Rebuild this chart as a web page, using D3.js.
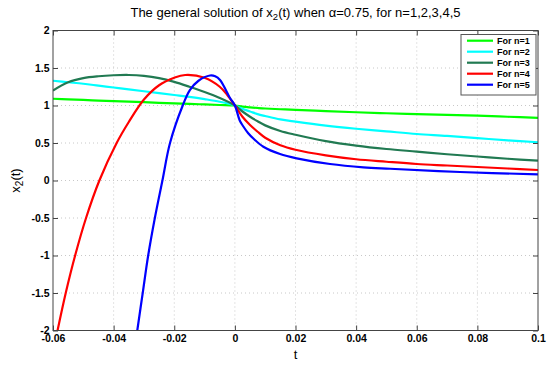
<!DOCTYPE html>
<html>
<head>
<meta charset="utf-8">
<script src="https://d3js.org/d3.v7.min.js"></script>
<style>
  body { margin: 0; background: #fff; }
  text { font-family: "Liberation Sans", Arial, sans-serif; }
</style>
</head>
<body>
<div id="chart"></div>
<script>
// ---- data ----
var xTicks = [-0.06, -0.04, -0.02, 0, 0.02, 0.04, 0.06, 0.08, 0.1];
var yTicks = [-2, -1.5, -1, -0.5, 0, 0.5, 1, 1.5, 2];
var seriesNames = ["For n=1", "For n=2", "For n=3", "For n=4", "For n=5"];
var seriesColors = ["#00ff00", "#00ffff", "#217a52", "#ff0000", "#0000ff"];

var tGrid = [-0.06, -0.055, -0.05, -0.045, -0.04, -0.035, -0.03, -0.025, -0.02, -0.015, -0.01, -0.005, 0,
             0.0025, 0.005, 0.0075, 0.01, 0.015, 0.02, 0.03, 0.04, 0.05, 0.06, 0.07, 0.08, 0.09, 0.1];
var yN1 = [1.09, 1.082, 1.074, 1.066, 1.059, 1.051, 1.044, 1.036, 1.029, 1.021, 1.014, 1.007, 1.0,
           0.985, 0.975, 0.967, 0.96, 0.95, 0.942, 0.925, 0.91, 0.897, 0.886, 0.875, 0.864, 0.85, 0.835];
var yN2 = [1.33, 1.31, 1.29, 1.265, 1.24, 1.215, 1.19, 1.165, 1.14, 1.115, 1.085, 1.05, 1.0,
           0.955, 0.92, 0.885, 0.86, 0.815, 0.785, 0.732, 0.69, 0.655, 0.62, 0.595, 0.565, 0.535, 0.51];
var yN3 = [1.2, 1.31, 1.365, 1.39, 1.403, 1.407, 1.395, 1.365, 1.315, 1.25, 1.18, 1.1, 1.0,
           0.92, 0.85, 0.79, 0.735, 0.66, 0.61, 0.525, 0.465, 0.42, 0.385, 0.35, 0.32, 0.29, 0.265];

var tN4 = [-0.0585, -0.0558, -0.0527, -0.0491, -0.0447, -0.039, -0.035, -0.03, -0.025, -0.02, -0.0164, -0.01, -0.005, -0.0025, 0,
           0.0025, 0.005, 0.0075, 0.01, 0.015, 0.02, 0.03, 0.04, 0.05, 0.06, 0.07, 0.08, 0.09, 0.1];
var yN4 = [-2.0, -1.5, -1.0, -0.5, 0, 0.5, 0.78, 1.08, 1.27, 1.37, 1.407, 1.37, 1.25, 1.14, 1.0,
           0.85, 0.74, 0.65, 0.57, 0.47, 0.41, 0.335, 0.283, 0.25, 0.22, 0.2, 0.18, 0.16, 0.14];

var tN5 = [-0.0322, -0.0304, -0.0286, -0.0264, -0.0239, -0.0214, -0.0172, -0.0148, -0.012, -0.0082, -0.0065, -0.0049, -0.0016, 0,
           0.0016, 0.0028, 0.0044, 0.0061, 0.0094, 0.0149, 0.0204, 0.0314, 0.0424, 0.0512, 0.0743, 0.1];
var yN5 = [-2.0, -1.5, -1.0, -0.5, 0, 0.5, 1.0, 1.207, 1.33, 1.40, 1.39, 1.34, 1.1, 1.0,
           0.8, 0.72, 0.63, 0.56, 0.45, 0.353, 0.296, 0.22, 0.176, 0.157, 0.113, 0.082];

var seriesT = [tGrid, tGrid, tGrid, tN4, tN5];
var seriesY = [yN1, yN2, yN3, yN4, yN5];

// ---- layout ----
var width = 550, height = 366;
var pLeft = 53, pRight = 538, pTop = 30.5, pBottom = 330.5;

var svg = d3.select("#chart").append("svg")
  .attr("width", width)
  .attr("height", height);

var x = d3.scaleLinear().domain([-0.06, 0.1]).range([pLeft, pRight]);
var y = d3.scaleLinear().domain([-2, 2]).range([pBottom, pTop]);

// grid
svg.append("g").selectAll("line").data(xTicks.slice(1, -1)).enter().append("line")
  .attr("x1", function(d) { return x(d); }).attr("x2", function(d) { return x(d); })
  .attr("y1", pTop).attr("y2", pBottom)
  .attr("stroke", "#c8c8c8").attr("stroke-dasharray", "1,3");
svg.append("g").selectAll("line").data(yTicks.slice(1, -1)).enter().append("line")
  .attr("y1", function(d) { return y(d); }).attr("y2", function(d) { return y(d); })
  .attr("x1", pLeft).attr("x2", pRight)
  .attr("stroke", "#c8c8c8").attr("stroke-dasharray", "1,3");

// curves
svg.append("clipPath").attr("id", "clip").append("rect")
  .attr("x", pLeft).attr("y", pTop).attr("width", pRight - pLeft).attr("height", pBottom - pTop);

var line = d3.line()
  .x(function(d) { return x(d[0]); })
  .y(function(d) { return y(d[1]); })
  .curve(d3.curveCatmullRom.alpha(0.5));

var plot = svg.append("g").attr("clip-path", "url(#clip)");
seriesY.forEach(function(ys, i) {
  var pts = ys.map(function(v, j) { return [seriesT[i][j], v]; });
  plot.append("path")
    .attr("d", line(pts))
    .attr("fill", "none")
    .attr("stroke", seriesColors[i])
    .attr("stroke-width", 2.2)
    .attr("stroke-linejoin", "round");
});

// axes: ticks inward on all sides
var fmt = function(d) { return String(d); };
var tickStyle = function(g) {
  g.select(".domain").remove();
  g.selectAll("line").attr("stroke", "#444");
  g.selectAll("text").attr("font-weight", "bold").attr("font-size", "10.5px").attr("fill", "#000");
};
svg.append("g").attr("transform", "translate(0," + pBottom + ")")
  .call(d3.axisBottom(x).tickValues(xTicks).tickFormat(fmt).tickSizeInner(-5).tickSizeOuter(0).tickPadding(4.5))
  .call(tickStyle);
svg.append("g").attr("transform", "translate(0," + pTop + ")")
  .call(d3.axisTop(x).tickValues(xTicks).tickFormat("").tickSizeInner(-5).tickSizeOuter(0))
  .call(tickStyle);
svg.append("g").attr("transform", "translate(" + pLeft + ",0)")
  .call(d3.axisLeft(y).tickValues(yTicks).tickFormat(fmt).tickSizeInner(-5).tickSizeOuter(0).tickPadding(3.5))
  .call(tickStyle);
svg.append("g").attr("transform", "translate(" + pRight + ",0)")
  .call(d3.axisRight(y).tickValues(yTicks).tickFormat("").tickSizeInner(-5).tickSizeOuter(0))
  .call(tickStyle);

svg.append("rect")
  .attr("x", pLeft).attr("y", pTop).attr("width", pRight - pLeft).attr("height", pBottom - pTop)
  .attr("fill", "none").attr("stroke", "#444").attr("stroke-width", 1);

// title
var title = svg.append("text")
  .attr("x", (pLeft + pRight) / 2).attr("y", 17)
  .attr("text-anchor", "middle").attr("font-size", "13px");
title.append("tspan").text("The general solution of x");
title.append("tspan").attr("font-size", "9.5px").attr("dy", 3).text("2");
title.append("tspan").attr("dy", -3).text("(t) when \u03b1=0.75, for n=1,2,3,4,5");

// axis labels
svg.append("text")
  .attr("x", (pLeft + pRight) / 2).attr("y", 359)
  .attr("text-anchor", "middle").attr("font-size", "13px")
  .text("t");
var ylab = svg.append("text")
  .attr("transform", "translate(20," + ((pTop + pBottom) / 2) + ") rotate(-90)")
  .attr("text-anchor", "middle").attr("font-size", "13px");
ylab.append("tspan").text("x");
ylab.append("tspan").attr("font-size", "10px").attr("dy", 3).text("2");
ylab.append("tspan").attr("dy", -3).text("(t)");

// legend
var lg = svg.append("g");
lg.append("rect")
  .attr("x", 461).attr("y", 34.5).attr("width", 75).attr("height", 60.5)
  .attr("fill", "#fff").attr("stroke", "#555").attr("stroke-width", 1);
seriesNames.forEach(function(name, i) {
  var yy = 40.7 + i * 11;
  lg.append("line")
    .attr("x1", 467).attr("x2", 493).attr("y1", yy).attr("y2", yy)
    .attr("stroke", seriesColors[i]).attr("stroke-width", 2.2);
  lg.append("text")
    .attr("x", 497).attr("y", yy + 3.3)
    .attr("font-size", "9px").attr("font-weight", "bold")
    .text(name);
});
</script>
</body>
</html>
